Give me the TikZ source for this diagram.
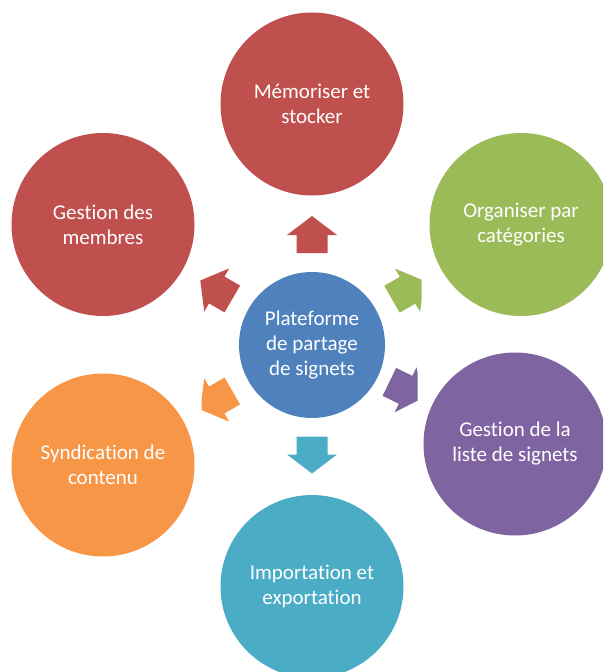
\documentclass[tikz,border=0pt]{standalone}
\usepackage{fontspec}
\setmainfont{Carlito}[Ligatures=NoCommon]
\definecolor{cred}{HTML}{C0504D}
\definecolor{cgreen}{HTML}{9BBB59}
\definecolor{cpurple}{HTML}{8064A2}
\definecolor{cteal}{HTML}{4BACC6}
\definecolor{corange}{HTML}{F79646}
\definecolor{cblue}{HTML}{4F81BD}
\newcommand{\radarrow}[4]{%
  \begin{scope}
    \clip #4;
    \fill[#1, shift={#2}, rotate=#3]
      (-18.5pt,-15.5pt) -- (-0.5pt,-15.5pt) -- (-0.5pt,-25pt) -- (18.5pt,0pt)
      -- (-0.5pt,25pt) -- (-0.5pt,15.5pt) -- (-18.5pt,15.5pt) -- cycle;
  \end{scope}}
\begin{document}
\begin{tikzpicture}[x=1pt,y=-1pt,
  bub/.style={circle, minimum size=183pt, inner sep=0pt, text=white,
    align=center, font=\fontsize{21}{25}\selectfont},
  hubstyle/.style={bub, minimum size=146pt}]
\useasboundingbox (0,0) rectangle (603,672);
\clip (0,0) rectangle (603,672);
\node[hubstyle, fill=cblue] (hub) at (312,345) {Plateforme\\de partage\\de signets};
\node[bub, fill=cred] (n1) at (312,104) {Mémoriser et\\stocker};
\node[bub, fill=cgreen] (n2) at (521,224.5) {Organiser par\\catégories};
\node[bub, fill=cpurple] (n3) at (515,444) {Gestion de la\\liste de signets};
\node[bub, fill=cteal] (n4) at (312,586.5) {Importation et\\exportation};
\node[bub, fill=corange] (n5) at (103,465) {Syndication de\\contenu};
\node[bub, fill=cred] (n6) at (103,224.5) {Gestion des\\membres};
\radarrow{cred}{(312,234.5)}{90}{(0,0) rectangle (603,672)}
\radarrow{cgreen}{(408,290)}{30}{(0,0) rectangle (421.7,672)}
\radarrow{cpurple}{(406,390)}{-26}{(0,0) rectangle (417.7,672)}
\radarrow{cteal}{(312,455)}{-90}{(0,0) rectangle (603,672)}
\radarrow{corange}{(216.3,400.25)}{210}{(201.7,0) rectangle (603,672)}
\radarrow{cred}{(216.3,289.75)}{150}{(200,0) rectangle (603,672)}
\end{tikzpicture}
\end{document}
